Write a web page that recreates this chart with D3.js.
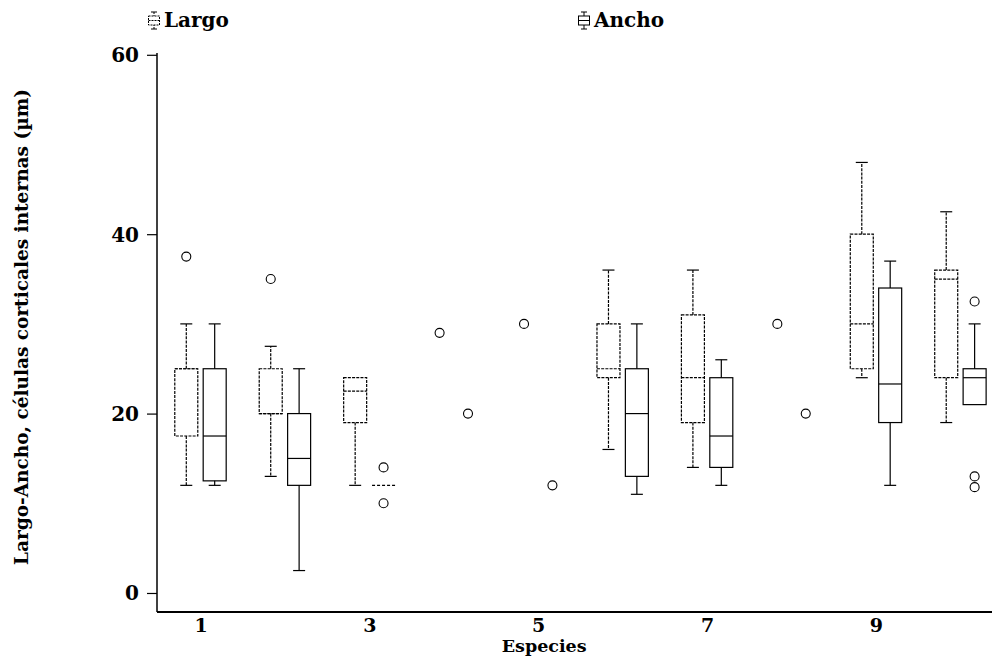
<!DOCTYPE html>
<html>
<head>
<meta charset="utf-8">
<script src="https://cdn.jsdelivr.net/npm/d3@7"></script>
<style>
  html, body { margin: 0; padding: 0; background: #fff; }
  svg text { font-family: "DejaVu Serif", "Liberation Serif", serif; font-weight: bold; fill: #000; }
</style>
</head>
<body>
<svg id="chart" width="992" height="658"></svg>
<script>
// ---- data ----
const species = [1, 2, 3, 4, 5, 6, 7, 8, 9, 10];
const seriesNames = ["Largo", "Ancho"];
const xTickValues = [1, 3, 5, 7, 9];
const yTickValues = [0, 20, 40, 60];

// [lower whisker, Q1, median, Q3, upper whisker] per species; null = no box
const largoBoxes = [
  [12, 17.5, 25, 25, 30],
  [13, 20, 20, 25, 27.5],
  [12, 19, 22.5, 24, 24],
  null,
  null,
  [16, 24, 25, 30, 36],
  [14, 19, 24, 31, 36],
  null,
  [24, 25, 30, 40, 48],
  [19, 24, 35, 36, 42.5]
];
const largoOutliers = [[37.5], [35], [], [29], [30], [], [], [30], [], []];

const anchoBoxes = [
  [12, 12.5, 17.5, 25, 30],
  [2.5, 12, 15, 20, 25],
  [12, 12, 12, 12, 12],
  null,
  null,
  [11, 13, 20, 25, 30],
  [12, 14, 17.5, 24, 26],
  null,
  [12, 19, 23.3, 34, 37],
  [21, 21, 24, 25, 30]
];
const anchoOutliers = [[], [], [14, 10], [20], [12], [], [], [20], [], [32.5, 13, 11.8]];

// ---- layout ----
const svg = d3.select("#chart");
const mLeft = 157, mRight = 992, mTop = 53, mBottom = 612;

const x = d3.scaleLinear().domain([0.485, 10.374]).range([mLeft, mRight]);
const y = d3.scaleLinear().domain([-2.12, 60.2]).range([mBottom, mTop]);

const offset = 14.2;   // px offset of each series from species center
const boxW = 23;
const capW = 12;

const series = [
  { name: "Largo", boxes: largoBoxes, outliers: largoOutliers, dx: -offset, dash: "3,1.2" },
  { name: "Ancho", boxes: anchoBoxes, outliers: anchoOutliers, dx: offset, dash: null }
];

// ---- axes ----
const yAxis = d3.axisLeft(y).tickValues(yTickValues).tickSize(10).tickPadding(8).tickFormat(d3.format("d"));
const gy = svg.append("g").attr("transform", `translate(${mLeft},0)`).call(yAxis);
gy.select(".domain").attr("stroke", "#000").attr("stroke-width", 1.5).attr("d", `M0,${mTop}V${mBottom}`);
gy.selectAll(".tick line").attr("stroke", "#000").attr("stroke-width", 1.2);
gy.selectAll(".tick text").style("font-size", "20px").attr("dy", "0.35em");

const xAxis = d3.axisBottom(x).tickValues(xTickValues).tickSize(0).tickPadding(7).tickFormat(d3.format("d"));
const gx = svg.append("g").attr("transform", `translate(0,${mBottom})`).call(xAxis);
gx.select(".domain").attr("stroke", "#000").attr("stroke-width", 2).attr("d", `M${mLeft},0H${mRight}`);
gx.selectAll(".tick text").style("font-size", "19px");

// axis titles
svg.append("text")
  .attr("x", x(5.07)).attr("y", 652)
  .attr("text-anchor", "middle")
  .style("font-size", "17.5px")
  .text("Especies");

svg.append("text")
  .attr("transform", `translate(28,327) rotate(-90)`)
  .attr("text-anchor", "middle")
  .style("font-size", "18.5px")
  .text("Largo-Ancho, células corticales internas (µm)");

// ---- boxes ----
series.forEach(s => {
  const g = svg.append("g").attr("class", "series-" + s.name)
    .attr("fill", "none").attr("stroke", "#000").attr("stroke-width", 1.2);
  species.forEach((sp, i) => {
    const cx = x(sp) + s.dx;
    const b = s.boxes[i];
    if (b) {
      const [lo, q1, med, q3, hi] = b;
      g.append("line").attr("x1", cx).attr("x2", cx).attr("y1", y(q3)).attr("y2", y(hi)).attr("stroke-dasharray", s.dash);
      g.append("line").attr("x1", cx).attr("x2", cx).attr("y1", y(q1)).attr("y2", y(lo)).attr("stroke-dasharray", s.dash);
      if (hi > q3) g.append("line").attr("x1", cx - capW / 2).attr("x2", cx + capW / 2).attr("y1", y(hi)).attr("y2", y(hi));
      if (lo < q1) g.append("line").attr("x1", cx - capW / 2).attr("x2", cx + capW / 2).attr("y1", y(lo)).attr("y2", y(lo));
      g.append("rect")
        .attr("x", cx - boxW / 2).attr("width", boxW)
        .attr("y", y(q3)).attr("height", Math.max(0, y(q1) - y(q3)))
        .attr("stroke-dasharray", s.dash);
      g.append("line").attr("x1", cx - boxW / 2).attr("x2", cx + boxW / 2)
        .attr("y1", y(med)).attr("y2", y(med))
        .attr("stroke-dasharray", q1 === q3 ? "3,2" : s.dash);
    }
    s.outliers[i].forEach(v => {
      g.append("circle").attr("cx", cx).attr("cy", y(v)).attr("r", 4.5).attr("stroke-width", 1.1);
    });
  });
});

// ---- legend ----
const legendItems = [
  { name: "Largo", x: 148, dash: "2,1" },
  { name: "Ancho", x: 578, dash: null }
];
legendItems.forEach(it => {
  const g = svg.append("g").attr("transform", `translate(${it.x},0)`);
  const gi = g.append("g").attr("fill", "none").attr("stroke", "#000").attr("stroke-width", 1);
  gi.append("line").attr("x1", 6).attr("x2", 6).attr("y1", 12).attr("y2", 29).attr("stroke-dasharray", it.dash);
  gi.append("line").attr("x1", 3).attr("x2", 9).attr("y1", 12).attr("y2", 12);
  gi.append("line").attr("x1", 3).attr("x2", 9).attr("y1", 29).attr("y2", 29);
  gi.append("rect").attr("x", 0.5).attr("y", 16).attr("width", 11).attr("height", 9).attr("fill", "#fff").attr("stroke-dasharray", it.dash);
  gi.append("line").attr("x1", 0.5).attr("x2", 11.5).attr("y1", 20.5).attr("y2", 20.5).attr("stroke-dasharray", it.dash);
  g.append("text").attr("x", 16).attr("y", 27).style("font-size", "20px").text(it.name);
});
</script>
</body>
</html>
